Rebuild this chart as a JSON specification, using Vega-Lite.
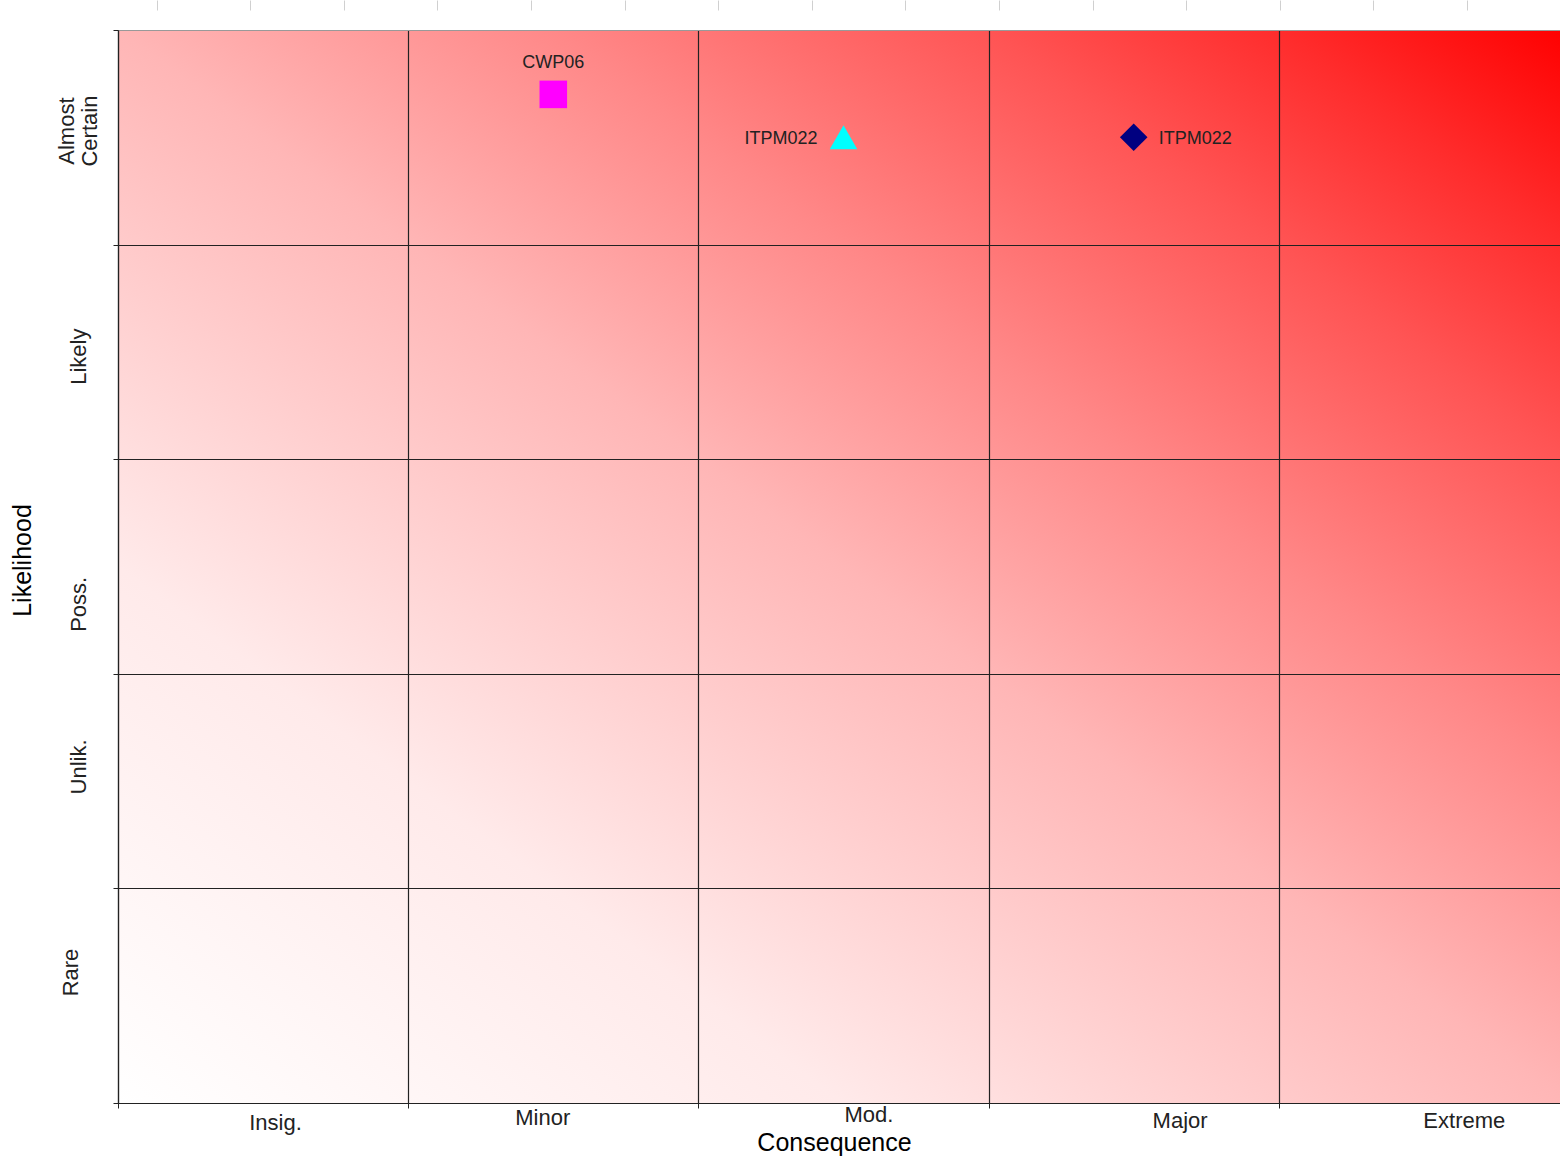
{
  "$schema": "https://vega.github.io/schema/vega-lite/v6.json",
  "autosize": {"type": "none"},
  "width": 1451,
  "height": 1073,
  "padding": {"left": 118, "top": 30, "right": 0, "bottom": 56},
  "background": "white",
  "config": {"view": {"stroke": null}, "font": "Liberation Sans"},
  "datasets": {
    "matrix": [{"c": 0, "c2": 5, "l": 0, "l2": 5}],
    "risks": [
      {"risk": "CWP06", "c": 1.5, "l": 4.7, "series": "A"},
      {"risk": "ITPM022", "c": 2.5, "l": 4.5, "series": "B"},
      {"risk": "ITPM022", "c": 3.5, "l": 4.5, "series": "C"}
    ],
    "ruler": [{"t": 1}]
  },
  "layer": [
    {
      "layer": [
        {
          "data": {"name": "matrix"},
          "mark": {
            "type": "rect",
            "strokeWidth": 0,
            "fill": {
              "gradient": "linear",
              "x1": 0, "y1": 1, "x2": 1, "y2": 0,
              "stops": [
                {"offset": 0, "color": "#ffffff"},
                {"offset": 0.25, "color": "#ffeaea"},
                {"offset": 0.5, "color": "#ffb6b6"},
                {"offset": 0.65, "color": "#ff8888"},
                {"offset": 0.8, "color": "#ff5454"},
                {"offset": 0.9, "color": "#ff2c2c"},
                {"offset": 1, "color": "#ff0000"}
              ]
            }
          },
          "encoding": {
            "x": {
              "field": "c", "type": "quantitative",
              "scale": {"domain": [0, 5], "nice": false, "zero": false},
              "axis": {
                "orient": "bottom",
                "values": [0, 1, 2, 3, 4, 5],
                "labelExpr": "datum.value==0?'Insig.':datum.value==1?'Minor':datum.value==2?'Mod.':datum.value==3?'Major':datum.value==4?'Extreme':''",
                "labelFontSize": 22,
                "labelColor": "#222",
                "labelFont": "Liberation Sans",
                "labelAlign": "center",
                "labelBaseline": "top",
                "labelOffset": {
                  "condition": [
                    {"test": "datum.value==0", "value": 157},
                    {"test": "datum.value==1", "value": 134},
                    {"test": "datum.value==2", "value": 170},
                    {"test": "datum.value==3", "value": 191}
                  ],
                  "value": 185
                },
                "labelPadding": {
                  "condition": [
                    {"test": "datum.value==0", "value": 4},
                    {"test": "datum.value==1", "value": -1},
                    {"test": "datum.value==2", "value": -4}
                  ],
                  "value": 2
                },
                "labelFlush": false,
                "labelOverlap": false,
                "labelBound": false,
                "tickSize": 5,
                "tickColor": "#222",
                "domainColor": "#222",
                "domainWidth": 1.2,
                "grid": true,
                "gridColor": "#222",
                "gridWidth": 1.2,
                "gridOpacity": 1,
                "zindex": 1,
                "title": "Consequence",
                "titleFontSize": 25,
                "titleFontWeight": "normal",
                "titleColor": "#000",
                "titleFont": "Liberation Sans",
                "titlePadding": -3,
                "titleX": 716
              }
            },
            "x2": {"field": "c2"},
            "y": {
              "field": "l", "type": "quantitative",
              "scale": {"domain": [0, 5], "nice": false, "zero": false},
              "axis": {
                "orient": "left",
                "values": [0, 1, 2, 3, 4, 5],
                "labelExpr": "datum.value==0?'Rare':datum.value==1?'Unlik.':datum.value==2?'Poss.':datum.value==3?'Likely':datum.value==4?['Almost','Certain']:''",
                "labelAngle": -90,
                "labelOffset": {
                  "condition": [
                    {"test": "datum.value==0", "value": -131},
                    {"test": "datum.value==1", "value": -122},
                    {"test": "datum.value==2", "value": -70},
                    {"test": "datum.value==3", "value": -103}
                  ],
                  "value": -114
                },
                "labelFontSize": 22,
                "labelLineHeight": 23,
                "labelColor": "#222",
                "labelFont": "Liberation Sans",
                "labelPadding": {
                  "condition": [
                    {"test": "datum.value==0", "value": 31},
                    {"test": "datum.value==4", "value": 35}
                  ],
                  "value": 23
                },
                "labelFlush": false,
                "labelOverlap": false,
                "labelBound": false,
                "tickSize": 5,
                "tickColor": "#222",
                "domainColor": "#222",
                "domainWidth": 1.2,
                "grid": true,
                "gridColor": {"condition": {"test": "datum.value == 5", "value": "#999999"}, "value": "#222222"},
                "gridWidth": 1.2,
                "gridOpacity": 1,
                "zindex": 1,
                "title": "Likelihood",
                "titleFontSize": 25,
                "titleFontWeight": "normal",
                "titleColor": "#000",
                "titleFont": "Liberation Sans",
                "titlePadding": 20,
                "titleY": 530
              }
            },
            "y2": {"field": "l2"}
          }
        },
        {
          "data": {"name": "risks"},
          "mark": {"type": "point", "filled": true, "size": 760, "opacity": 1, "strokeWidth": 0},
          "encoding": {
            "x": {"field": "c", "type": "quantitative"},
            "y": {"field": "l", "type": "quantitative"},
            "shape": {"field": "series", "type": "nominal", "scale": {"domain": ["A", "B", "C"], "range": ["square", "triangle-up", "diamond"]}, "legend": null},
            "color": {"field": "series", "type": "nominal", "scale": {"domain": ["A", "B", "C"], "range": ["#ff00ff", "#00ffff", "#000080"]}, "legend": null}
          }
        },
        {
          "data": {"name": "risks"},
          "transform": [{"filter": "datum.series == 'A'"}],
          "mark": {"type": "text", "align": "center", "baseline": "alphabetic", "dy": -26, "fontSize": 18, "font": "Liberation Sans", "color": "#222"},
          "encoding": {
            "x": {"field": "c", "type": "quantitative"},
            "y": {"field": "l", "type": "quantitative"},
            "text": {"field": "risk"}
          }
        },
        {
          "data": {"name": "risks"},
          "transform": [{"filter": "datum.series == 'B'"}],
          "mark": {"type": "text", "align": "right", "baseline": "middle", "dx": -26, "dy": 2, "fontSize": 18, "font": "Liberation Sans", "color": "#222"},
          "encoding": {
            "x": {"field": "c", "type": "quantitative"},
            "y": {"field": "l", "type": "quantitative"},
            "text": {"field": "risk"}
          }
        },
        {
          "data": {"name": "risks"},
          "transform": [{"filter": "datum.series == 'C'"}],
          "mark": {"type": "text", "align": "left", "baseline": "middle", "dx": 25, "dy": 2, "fontSize": 18, "font": "Liberation Sans", "color": "#222"},
          "encoding": {
            "x": {"field": "c", "type": "quantitative"},
            "y": {"field": "l", "type": "quantitative"},
            "text": {"field": "risk"}
          }
        }
      ]
    },
    {
      "data": {"name": "ruler"},
      "mark": {"type": "point", "opacity": 0},
      "encoding": {
        "x": {
          "field": "t", "type": "quantitative",
          "scale": {"domain": [0.5876, 16.09], "nice": false, "zero": false},
          "axis": {
            "orient": "top",
            "values": [1, 2, 3, 4, 5, 6, 7, 8, 9, 10, 11, 12, 13, 14, 15, 16],
            "offset": 20,
            "tickSize": 10,
            "tickColor": "#d0d0d0",
            "tickWidth": 1,
            "domain": false,
            "labels": false,
            "grid": false,
            "title": null
          }
        }
      }
    }
  ],
  "resolve": {"scale": {"x": "independent"}}
}
